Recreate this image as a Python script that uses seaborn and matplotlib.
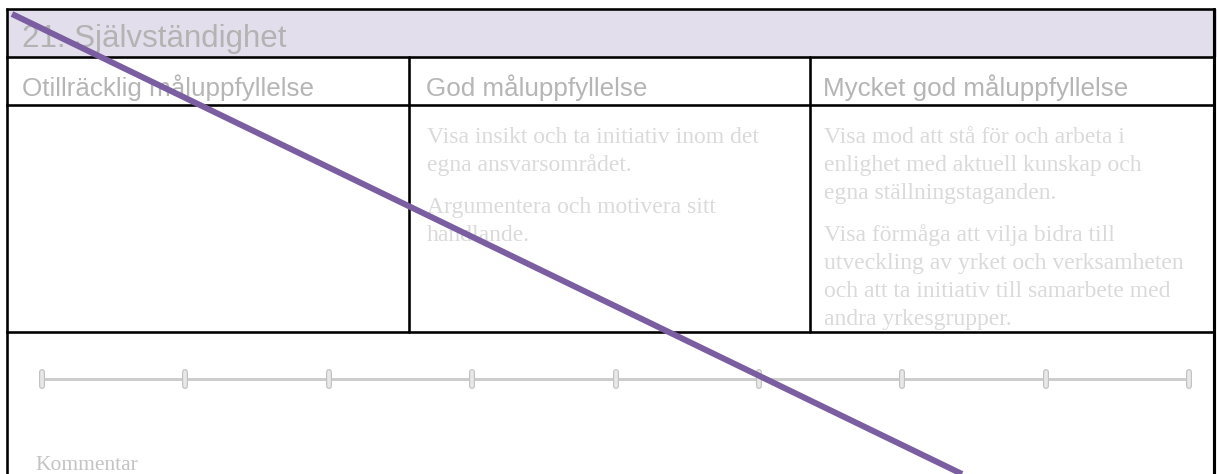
import matplotlib
matplotlib.use("Agg")
import matplotlib.pyplot as plt
import seaborn as sns
import numpy as np
from matplotlib.patches import Rectangle

sns.set_theme(style="white")
plt.rcParams['font.family'] = ['Liberation Sans', 'DejaVu Sans']

# ---- content ----
title = "21. Självständighet"
levels = ["Otillräcklig måluppfyllelse", "God måluppfyllelse", "Mycket god måluppfyllelse"]
criteria = [
    [],
    [["Visa insikt och ta initiativ inom det", "egna ansvarsområdet."],
     ["Argumentera och motivera sitt", "handlande."]],
    [["Visa mod att stå för och arbeta i", "enlighet med aktuell kunskap och", "egna ställningstaganden."],
     ["Visa förmåga att vilja bidra till", "utveckling av yrket och verksamheten",
      "och att ta initiativ till samarbete med", "andra yrkesgrupper."]],
]
scale_steps = [1, 2, 3, 4, 5, 6, 7, 8, 9]
comment_label = "Kommentar"
strike_x = [0.0, 1.0]
strike_y = [0.0, 1.0]

W, H = 1217, 474
fig = plt.figure(figsize=(W / 100, H / 100), dpi=100)
ax = fig.add_axes([0, 0, 1, 1])
ax.set_xlim(0, W)
ax.set_ylim(H, 0)
ax.axis("off")

PX = 0.72  # points per pixel
black_lw = 2.6 * PX

# header band
ax.add_patch(Rectangle((7, 9), W - 7, 48, facecolor="#e3deeb", edgecolor="none", zorder=1))

# borders
L, R = 7, 1214
for yy in [9, 57, 105, 332]:
    ax.plot([L, R], [yy, yy], color="black", lw=black_lw, solid_capstyle="projecting", zorder=3)
ax.plot([L, L], [9, H + 5], color="black", lw=black_lw, zorder=3)
ax.plot([R, R], [9, H + 5], color="black", lw=black_lw * 1.2, zorder=3)
col_x = [7, 409, 810]
for xx in col_x[1:]:
    ax.plot([xx, xx], [57, 332], color="black", lw=black_lw, zorder=3)

# title
ax.text(22, 47, title, fontsize=22.5, color="#b3b3b3", va="baseline", ha="left",
        family=["Liberation Sans", "DejaVu Sans"], zorder=4)

# column headers
text_x = [22, 426, 823]
for i, lab in enumerate(levels):
    ax.text(text_x[i], 96, lab, fontsize=18.7, color="#b5b5b5", va="baseline", ha="left",
            family=["Liberation Sans", "DejaVu Sans"], zorder=4)

# criteria texts
line_h = 28
para_gap = 14
for i, paras in enumerate(criteria):
    y = 143
    for p in paras:
        for line in p:
            ax.text(text_x[i] + 1, y, line, fontsize=17, color="#dadada", va="baseline", ha="left",
                    family=["Liberation Serif", "DejaVu Serif"], zorder=4)
            y += line_h
        y += para_gap

# comment label
ax.text(35, 470, comment_label, fontsize=15.5, color="#c3c3c3", va="baseline", ha="left",
        family=["Liberation Serif", "DejaVu Serif"], zorder=4)

# slider scale axes
sx0, sx1 = 42, 1189
sy_top, sy_bot = 365, 393
sax = fig.add_axes([sx0 / W, (H - sy_bot) / H, (sx1 - sx0) / W, (sy_bot - sy_top) / H])
sax.set_xlim(scale_steps[0], scale_steps[-1])
sax.set_ylim(-14, 14)
sax.axis("off")
sax.patch.set_alpha(0)
sns.lineplot(x=scale_steps, y=[0] * len(scale_steps), ax=sax, color="#cdcdcd", lw=3 * PX)
for s in scale_steps:
    sax.plot([s, s], [-7, 7], color="#c2c2c2", lw=6 * PX, solid_capstyle="round", clip_on=False, zorder=5)
    sax.plot([s, s], [-7, 7], color="#e8e8e8", lw=3.6 * PX, solid_capstyle="round", clip_on=False, zorder=6)

# strike-through diagonal
dax = fig.add_axes([12 / W, (H - 474) / H, (962 - 12) / W, (474 - 14) / H])
dax.set_xlim(0, 1)
dax.set_ylim(1, 0)
dax.axis("off")
dax.patch.set_alpha(0)
sns.lineplot(x=strike_x, y=strike_y, ax=dax, color="#7a5ea1", lw=6 * PX, clip_on=False)
dax.lines[-1].set_solid_capstyle("butt")

fig.savefig("out.png", dpi=100)
